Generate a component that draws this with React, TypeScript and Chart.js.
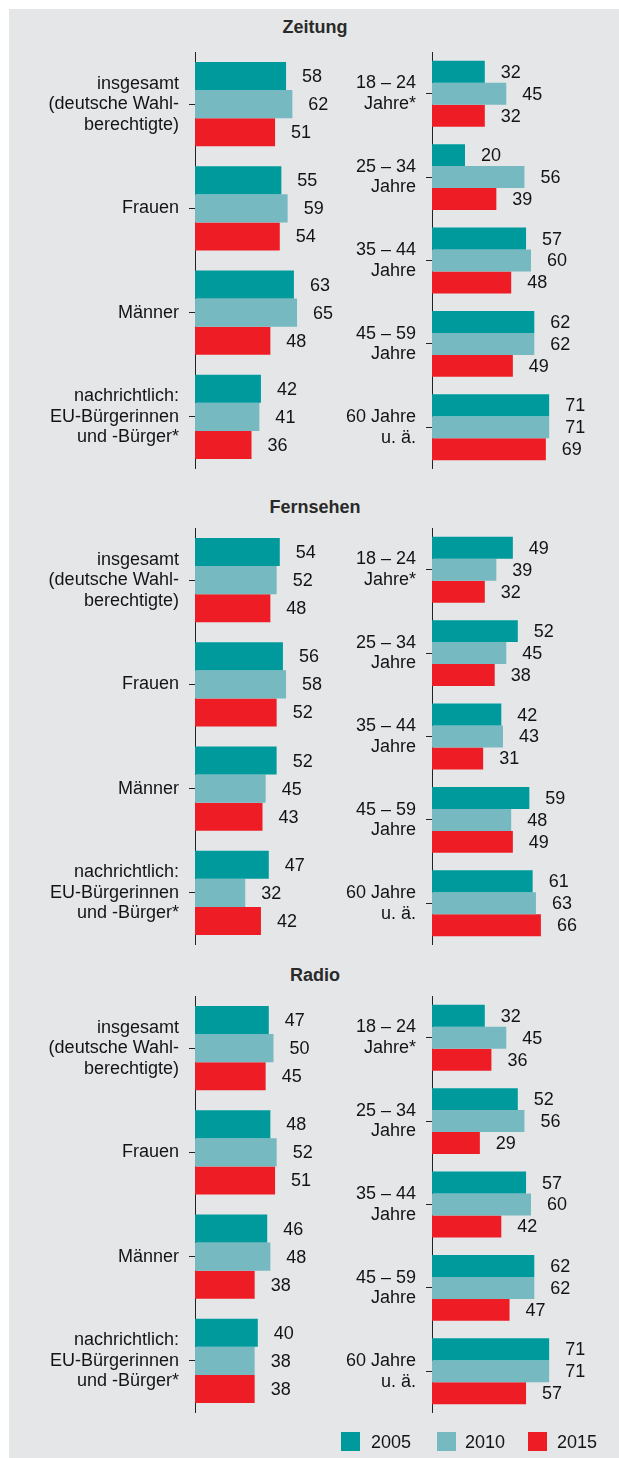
import React, { useEffect, useRef } from "react";
import { Chart, registerables } from "chart.js";

Chart.register(...registerables);

const FONT = '"Liberation Sans", Arial, Helvetica, sans-serif';

const years = ["2005", "2010", "2015"];
const seriesColors = ["#009a9c", "#77b9c0", "#ee1c25"];
const sectionTitles = ["Zeitung", "Fernsehen", "Radio"];

const groupLabels = [
  ["insgesamt", "(deutsche Wahl-", "berechtigte)"],
  ["Frauen"],
  ["Männer"],
  ["nachrichtlich:", "EU-Bürgerinnen", "und -Bürger*"],
];
const ageLabels = [
  ["18 – 24", "Jahre*"],
  ["25 – 34", "Jahre"],
  ["35 – 44", "Jahre"],
  ["45 – 59", "Jahre"],
  ["60 Jahre", "u. ä."],
];

// Zeitung
const zeitungGroups2005 = [58, 55, 63, 42];
const zeitungGroups2010 = [62, 59, 65, 41];
const zeitungGroups2015 = [51, 54, 48, 36];
const zeitungAge2005 = [32, 20, 57, 62, 71];
const zeitungAge2010 = [45, 56, 60, 62, 71];
const zeitungAge2015 = [32, 39, 48, 49, 69];

// Fernsehen
const fernsehenGroups2005 = [54, 56, 52, 47];
const fernsehenGroups2010 = [52, 58, 45, 32];
const fernsehenGroups2015 = [48, 52, 43, 42];
const fernsehenAge2005 = [49, 52, 42, 59, 61];
const fernsehenAge2010 = [39, 45, 43, 48, 63];
const fernsehenAge2015 = [32, 38, 31, 49, 66];

// Radio
const radioGroups2005 = [47, 48, 46, 40];
const radioGroups2010 = [50, 52, 48, 38];
const radioGroups2015 = [45, 51, 38, 38];
const radioAge2005 = [32, 52, 57, 62, 71];
const radioAge2010 = [45, 56, 60, 62, 71];
const radioAge2015 = [36, 29, 42, 47, 57];

const valueLabelPlugin = {
  id: "valueLabels",
  afterDatasetsDraw(chart: any) {
    const ctx = chart.ctx;
    ctx.save();
    ctx.font = `18px ${FONT}`;
    ctx.fillStyle = "#141414";
    ctx.textAlign = "left";
    ctx.textBaseline = "middle";
    chart.data.datasets.forEach((ds: any, i: number) => {
      const meta = chart.getDatasetMeta(i);
      meta.data.forEach((bar: any, j: number) => {
        ctx.fillText(String(ds.data[j]), bar.x + 16, bar.y + 1);
      });
    });
    ctx.restore();
  },
};

type PanelProps = {
  labels: string[][];
  series: number[][];
  left: number;
  top: number;
  width: number;
  height: number;
  axisWidth: number;
  rightPad: number;
  catPct: number;
};

function Panel({ labels, series, left, top, width, height, axisWidth, rightPad, catPct }: PanelProps) {
  const ref = useRef<HTMLCanvasElement | null>(null);
  useEffect(() => {
    if (!ref.current) return;
    const chart = new Chart(ref.current, {
      type: "bar",
      data: {
        labels: labels as any,
        datasets: series.map((d, i) => ({
          label: years[i],
          data: d,
          backgroundColor: seriesColors[i],
          borderWidth: 0,
          barPercentage: 1,
          categoryPercentage: catPct,
        })),
      },
      options: {
        indexAxis: "y",
        responsive: false,
        animation: false,
        devicePixelRatio: 1,
        layout: { padding: { left: 0, right: rightPad, top: 0, bottom: 0 } },
        plugins: { legend: { display: false }, tooltip: { enabled: false } },
        scales: {
          x: { display: false, min: 0, max: 100 },
          y: {
            afterFit: (s: any) => {
              s.width = axisWidth;
              s.paddingTop = 0;
              s.paddingBottom = 0;
            },
            grid: {
              display: true,
              drawOnChartArea: false,
              drawTicks: true,
              tickLength: 6,
              offset: false,
              color: "#222",
              lineWidth: 1,
            },
            border: { display: true, color: "#222", width: 1 },
            ticks: {
              color: "#141414",
              padding: 10,
              font: { family: FONT, size: 18, lineHeight: 1.14 },
            },
          },
        },
      },
      plugins: [valueLabelPlugin],
    } as any);
    return () => chart.destroy();
  }, []);
  return (
    <canvas
      ref={ref}
      width={width}
      height={height}
      style={{ position: "absolute", left, top, width, height }}
    />
  );
}

const sectionData = [
  {
    groups: [zeitungGroups2005, zeitungGroups2010, zeitungGroups2015],
    ages: [zeitungAge2005, zeitungAge2010, zeitungAge2015],
  },
  {
    groups: [fernsehenGroups2005, fernsehenGroups2010, fernsehenGroups2015],
    ages: [fernsehenAge2005, fernsehenAge2010, fernsehenAge2015],
  },
  {
    groups: [radioGroups2005, radioGroups2010, radioGroups2015],
    ages: [radioAge2005, radioAge2010, radioAge2015],
  },
];

const chartTops = [43, 519, 987];
const titleTops = [8, 488, 956];
const legendSquareX = [332, 428, 519];
const legendTextX = [362, 456, 548];

export default function App() {
  return (
    <div
      style={{
        position: "absolute",
        left: 9,
        top: 9,
        width: 610,
        height: 1449,
        background: "#e5e6e8",
        fontFamily: FONT,
        color: "#141414",
      }}
    >
      {sectionTitles.map((t, i) => (
        <div
          key={t}
          style={{
            position: "absolute",
            left: 206,
            width: 200,
            top: titleTops[i],
            height: 20,
            lineHeight: "20px",
            textAlign: "center",
            fontWeight: "bold",
            fontSize: 18,
            color: "#2a2a2a",
          }}
        >
          {t}
        </div>
      ))}
      {sectionData.map((s, i) => (
        <React.Fragment key={i}>
          <Panel
            labels={groupLabels}
            series={s.groups}
            left={0}
            top={chartTops[i]}
            width={343}
            height={417}
            axisWidth={186}
            rightPad={0}
            catPct={0.806}
          />
          <Panel
            labels={ageLabels}
            series={s.ages}
            left={300}
            top={chartTops[i]}
            width={310}
            height={417}
            axisWidth={123}
            rightPad={22}
            catPct={0.79}
          />
        </React.Fragment>
      ))}
      {years.map((y, i) => (
        <React.Fragment key={y}>
          <div
            style={{
              position: "absolute",
              left: legendSquareX[i],
              top: 1423,
              width: 19,
              height: 19,
              background: seriesColors[i],
            }}
          />
          <div
            style={{
              position: "absolute",
              left: legendTextX[i],
              top: 1423,
              height: 20,
              lineHeight: "20px",
              fontSize: 18,
            }}
          >
            {y}
          </div>
        </React.Fragment>
      ))}
    </div>
  );
}
